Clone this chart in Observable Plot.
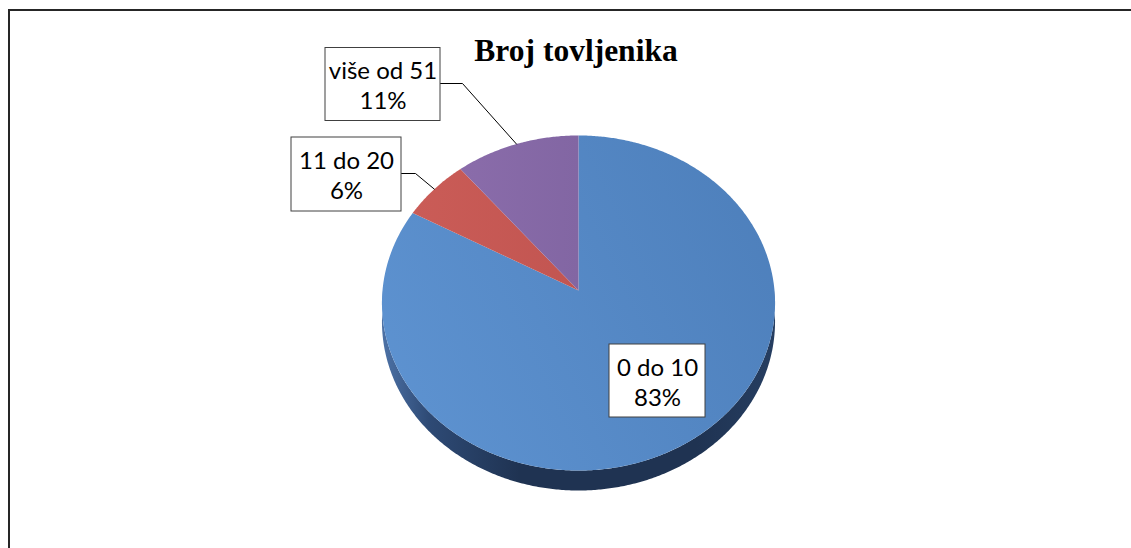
<!DOCTYPE html>
<html><head><meta charset="utf-8">
<script src="https://cdn.jsdelivr.net/npm/d3@7"></script>
<script src="https://cdn.jsdelivr.net/npm/@observablehq/plot@0.6"></script>
<style>
html,body{margin:0;padding:0;background:#fff;}
#wrap{position:relative;width:1131px;height:548px;overflow:hidden;background:#fff;}
#wrap svg{position:absolute;left:0;top:0;}
#frame{position:absolute;left:8px;top:9px;width:1200px;height:700px;border-top:2px solid #262626;border-left:2px solid #262626;pointer-events:none;}
</style></head><body>
<div id="wrap"></div>
<script>
// ---- data ----
const title = "Broj tovljenika";
const categories = ["0 do 10", "11 do 20", "više od 51"];
const percents = [83, 6, 11];

// ---- style / layout ----
const sliceFill = {"0 do 10": "url(#gBlue)", "11 do 20": "url(#gRed)", "više od 51": "url(#gPurple)"};
const geom = {cx: 578, cy: 290, rx: 196, ry: 166.6, k: 0.0746, depth: 18.5};
const labelLayout = {
  "0 do 10":    {cx: 657,   cy: 380.5, w: 96,  h: 73, knee: null},
  "11 do 20":   {cx: 346,   cy: 174,   w: 110, h: 74, knee: 14},
  "više od 51": {cx: 382.5, cy: 84,    w: 115, h: 73, knee: 22}
};

const W = 1131, H = 548;

function project(theta) {
  const u = Math.sin(theta), v = -Math.cos(theta);
  const w = 1 - geom.k * v;
  return [geom.cx + geom.rx * u / w, geom.cy + geom.ry * v / w, w];
}

const data = categories.map((c, i) => ({cat: c, value: percents[i]}));
const arcs = d3.pie().sort(null).value(d => d.value).startAngle(0).endAngle(2 * Math.PI)(data);

// top-face slice outlines
const sliceRows = [];
arcs.forEach(a => {
  const cat = a.data.cat;
  sliceRows.push({cat, x: geom.cx, y: geom.cy});
  const n = Math.max(4, Math.ceil((a.endAngle - a.startAngle) / (Math.PI / 360)));
  for (let j = 0; j <= n; j++) {
    const t = a.startAngle + (a.endAngle - a.startAngle) * j / n;
    const [x, y] = project(t);
    sliceRows.push({cat, x, y});
  }
  sliceRows.push({cat, x: geom.cx, y: geom.cy});
});

// side band (front half of the disc)
const sideRows = [];
{
  const t0 = Math.PI / 2, t1 = 3 * Math.PI / 2, n = 360;
  const top = [], bot = [];
  for (let j = 0; j <= n; j++) {
    const t = t0 + (t1 - t0) * j / n;
    const [x, y, w] = project(t);
    top.push({x, y});
    bot.push({x, y: y + geom.depth / w});
  }
  top.forEach(p => sideRows.push(p));
  bot.reverse().forEach(p => sideRows.push(p));
  sideRows.push(top[0]);
}

// labels
const labels = arcs.map(a => {
  const L = labelLayout[a.data.cat];
  return {
    cat: a.data.cat,
    text: `${a.data.cat}\n${a.data.value}%`,
    x1: L.cx - L.w / 2, x2: L.cx + L.w / 2,
    y1: L.cy - L.h / 2, y2: L.cy + L.h / 2,
    cx: L.cx, cy: L.cy, knee: L.knee,
    mid: (a.startAngle + a.endAngle) / 2
  };
});
const leaderRows = [];
labels.filter(l => l.knee != null).forEach(l => {
  const [ax, ay] = project(l.mid);
  leaderRows.push({cat: l.cat, x: ax, y: ay});
  leaderRows.push({cat: l.cat, x: l.x2 + l.knee, y: l.cy - 1});
  leaderRows.push({cat: l.cat, x: l.x2, y: l.cy - 1});
});

const plot = Plot.plot({
  width: W, height: H,
  margin: 0,
  x: {domain: [0, W], range: [0, W], axis: null},
  y: {domain: [0, H], range: [0, H], axis: null},
  style: {background: "white", overflow: "visible"},
  marks: [
    Plot.line(sideRows, {x: "x", y: "y", fill: "url(#gSide)", stroke: "none", curve: "linear"}),
    ...arcs.map(a => Plot.line(sliceRows.filter(r => r.cat === a.data.cat),
      {x: "x", y: "y", fill: sliceFill[a.data.cat], stroke: "none", curve: "linear"})),
    Plot.line(leaderRows, {x: "x", y: "y", z: "cat", stroke: "#000", strokeWidth: 1, curve: "linear"}),
    Plot.rect(labels, {x1: "x1", x2: "x2", y1: "y1", y2: "y2", fill: "white", stroke: "#404040", strokeWidth: 1}),
    Plot.text(labels, {x: "cx", y: "cy", text: "text", fontSize: 24, fontFamily: "Lato", lineHeight: 1.25, fill: "#000"}),
    Plot.text([title], {x: () => 575.5, y: () => 60, text: d => d, lineAnchor: "bottom",
      fontSize: 31.5, fontWeight: "bold", fontFamily: "Liberation Serif", fill: "#000"})
  ]
});

const svg = d3.select(plot);
const defs = svg.insert("defs", ":first-child");
function grad(id, stops, x1 = 0, y1 = 0, x2 = 1, y2 = 0) {
  const g = defs.append("linearGradient").attr("id", id)
    .attr("x1", x1).attr("y1", y1).attr("x2", x2).attr("y2", y2);
  stops.forEach(([o, c]) => g.append("stop").attr("offset", o).attr("stop-color", c));
}
grad("gBlue", [[0, "#5D92D0"], [1, "#4E80BC"]], 0, 0.7, 1, 0.3);
grad("gRed", [[0, "#CA5C57"], [1, "#C25551"]]);
grad("gPurple", [[0, "#8A6CAA"], [1, "#8266A3"]]);
grad("gSide", [[0, "#4D72A6"], [0.12, "#2E4A75"], [0.35, "#1F3352"], [0.8, "#1F3352"], [1, "#263E61"]]);

const wrap = document.getElementById("wrap");
wrap.appendChild(plot);
const frame = document.createElement("div");
frame.id = "frame";
wrap.appendChild(frame);
</script>
</body></html>
